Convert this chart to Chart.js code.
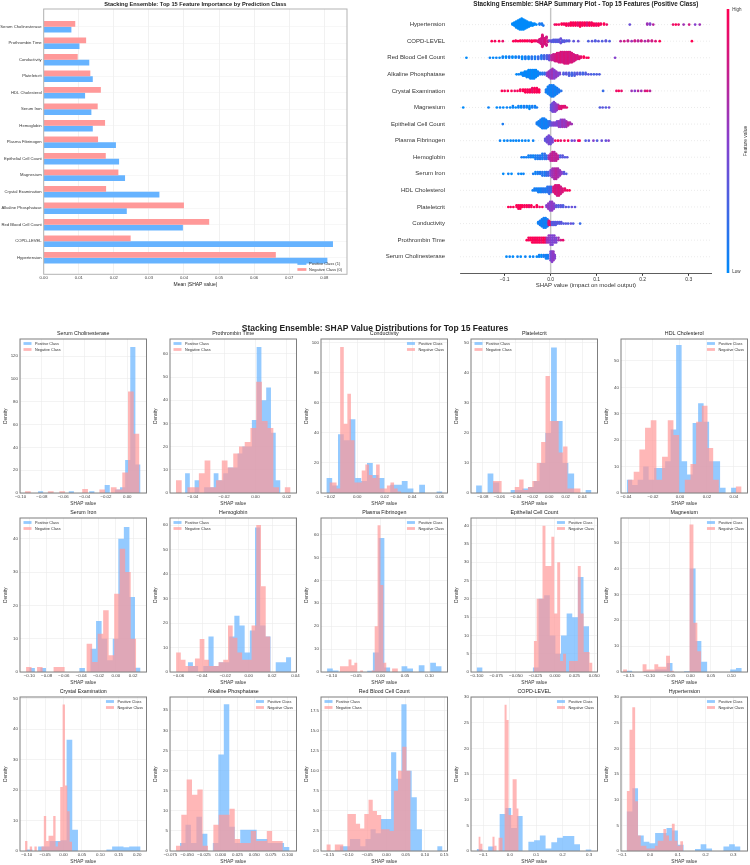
<!DOCTYPE html>
<html>
<head>
<meta charset="utf-8">
<script src="https://cdn.jsdelivr.net/npm/chart.js@4.4.1/dist/chart.umd.min.js"></script>
<style>
  body { margin: 0; background: #fff; overflow: hidden; }
  #wrap { position: relative; width: 750px; height: 865px; }
  #wrap canvas { position: absolute; }
  #suptitle { position: absolute; left: 0; width: 750px; top: 323px; text-align: center; line-height: 1;
    font: bold 8.5px "Liberation Sans", Arial, sans-serif; color: #222; z-index: 5; }
</style>
</head>
<body>
<div id="wrap"><div id="suptitle">Stacking Ensemble: SHAP Value Distributions for Top 15 Features</div></div>
<script>
// ---- data ----
const features = ['Serum Cholinesterase', 'Prothrombin Time', 'Conductivity', 'Plateletcrit', 'HDL Cholesterol',
  'Serum Iron', 'Hemoglobin', 'Plasma Fibrinogen', 'Epithelial Cell Count', 'Magnesium',
  'Crystal Examination', 'Alkaline Phosphatase', 'Red Blood Cell Count', 'COPD-LEVEL', 'Hypertension'];

// mean |SHAP| per class (top-left bars)
const meanAbsPositive = [0.0079, 0.0102, 0.0130, 0.0140, 0.0118, 0.0136, 0.0140, 0.0206, 0.0215, 0.0232, 0.0330, 0.0237, 0.0397, 0.0825, 0.0809];
const meanAbsNegative = [0.0090, 0.0121, 0.0097, 0.0133, 0.0163, 0.0154, 0.0175, 0.0155, 0.0177, 0.0213, 0.0178, 0.0400, 0.0472, 0.0248, 0.0662];

// histogram bins: [first edge, last edge] and 20 density heights per class
const histPosRange = [[-0.0836, 0.0124], [-0.0449, 0.0160], [-0.0224, 0.0619], [-0.0881, 0.0509], [-0.0395, 0.0420],
  [-0.1000, 0.0286], [-0.0522, 0.0364], [-0.1094, 0.1249], [-0.1000, 0.0436], [-0.156, 0.125],
  [-0.100, 0.2093], [-0.0608, 0.1026], [-0.1213, 0.1457], [-0.1254, 0.3093], [-0.0846, 0.3258]];
const histPosCounts = [
  [1.5,0,0,0,0,0,1.5,0,0,0,1.5,0,0,7,0,3,5,29,128,25],
  [8.5,0,5.5,0,2.5,2.5,8.5,5.5,8.5,11,11,17,20,20,31.5,63,40,45.5,26,5.5],
  [10,5,39,35,49,10,8,20,12,10,0,5.5,5.5,8,3,0,5.5,0,0,1],
  [2.5,0,6.5,3.5,0,0,1,1,1.5,2,4,10,20,48.5,24,10,6.5,0,0,1],
  [5,3,5,10,5,9.5,9.5,12,24,56,12,7,26.5,34,27,12,12,2,0,2],
  [1.2,0,1.2,0,0,0,0,0,0,1.2,0,7,15.3,10,3.5,10,40,43.5,22.5,1.3],
  [4,2.5,0,2.5,14.5,2.5,4,4,14.5,23,19,8,17,59,19,14.5,0,4,4,6],
  [1.5,0.7,0,0,0,0,0,0.5,8.5,58.5,2,0,0,2.5,1.5,0,3,0,4,2.5],
  [1.2,0,0,0,0,0,0,0,0,0,1.2,20,21,10,5,10,16,15,26,12.5],
  [0.5,0,0,0.5,0.5,1,1,3.5,0,0,0.3,40,12,4,0,0,0,0,1,1.5],
  [0.5,0,1.5,1.5,3.3,3.3,3.5,36.5,7,0,0,0,0,0,0.5,1.5,1.5,1.2,1.5,1.5],
  [2,6.5,2,8.5,4.3,0,2,24,36.5,6,2,5.3,5.3,5.3,3,3,2,2,2,1],
  [0.6,0.6,1.5,1.5,0.6,1.5,2.7,2.2,4,4,12.3,9,18.3,10,6.7,2.7,0,0,0,0.6],
  [0.4,0,0.9,0,7.2,8.4,4.5,6.8,0,1.8,2.1,3,0.5,1.7,2.6,2.9,2.9,1.3,0,0.3],
  [7.7,12.2,3,1.8,1.5,3.5,3.5,4.5,4,1.2,0,0,0.4,1.3,0.5,0,0,0.9,1.3,0.9]];
const histNegRange = [[-0.0958, 0.0114], [-0.0507, 0.0224], [-0.0202, 0.0320], [-0.0679, 0.0379], [-0.0385, 0.0457],
  [-0.1038, 0.0236], [-0.0622, 0.0186], [-0.0833, 0.0354], [-0.0272, 0.0479], [-0.164, 0.0264],
  [-0.1046, 0.0230], [-0.0668, 0.0926], [-0.156, 0.063], [-0.119, 0.0335], [-0.0846, 0.119]];
const histNegCounts = [
  [1.5,0,0,0,1.5,0,1.5,0,0,0,3.5,0,0,3,0,5,3,18,89,52],
  [5.5,0,2.5,2.5,8.5,14,2.5,5.5,14,11,17,20,22,28,48,31,28,2.5,0,2.5],
  [7,7,3,97,46,66,35,7,7,15,19,12,10,19,3,3,5,7,3,1],
  [4,4,0,0,0,2,4.5,1,2,4,10,17,39,24,24,13.5,15.5,1.5,1.5,1.5],
  [5,8,16.5,24.7,27.5,5,13.7,27.5,22,0,5,11,27,33,17,5,0,0,0,2.5],
  [1.5,0,1.5,0,0,1.5,1.5,0,0,0,0,8.5,3,11.5,18.5,5,23.5,37,30,10],
  [8,5,2.5,2.5,5.5,13.5,5,2.5,2.5,4,5,19,14,8,5,5,19,60,35,14.5],
  [2.5,2.5,2.5,5.5,3,4,0,0.7,0,0,0,0.7,20,64,38,4,0,0,1.5,1.5],
  [8.5,20,20,40,29,29,37,16,30,3,5,0,3,3,3,29,16,5.5,5.5,2.5],
  [1,0,0,0,0,3,1,1,3,2,2,6.3,0.5,0,0,0,0,57,19,8],
  [3.3,0,1.5,0,1.5,0,0,1.5,11.5,3.3,5,5,11.5,1.5,3,21,48,21.5,13,3],
  [1.3,9,17.8,14,15.3,1.3,0,6.5,9,9,10.5,3,2,2,5,2.5,2.5,5,2.5,2.5],
  [0.8,0,0.8,0.8,0,4.6,4.6,3.4,2.8,4.6,6.4,5,4.5,2.7,2.7,2.5,7.5,10,13,10],
  [2.8,1.4,0,0,0,0,0,2.8,1,0,2.6,2.6,0,28.5,25.5,7,7,14,14,8.3],
  [11.7,23.6,28,9.7,3,1,1,0.5,0.5,0.5,1,2,2,4.3,3,2,5.3,2,1,1.9]];

// histogram axes: x limits, x tick step, y top, y tick step
const histXLimits = [[-0.1005, 0.018], [-0.0545, 0.0262], [-0.0263, 0.0656], [-0.0942, 0.0582], [-0.0437, 0.0501],
  [-0.1108, 0.0355], [-0.0674, 0.0409], [-0.1218, 0.1368], [-0.1073, 0.0543], [-0.169, 0.139],
  [-0.1183, 0.2254], [-0.0757, 0.113], [-0.170, 0.1587], [-0.147, 0.332], [-0.105, 0.351]];
const histXStep = [0.02, 0.02, 0.02, 0.02, 0.02, 0.02, 0.02, 0.05, 0.025, 0.05, 0.05, 0.025, 0.05, 0.1, 0.1];
const histYMax = [135, 66.4, 102.4, 51.3, 58.3, 46.2, 62.9, 67.2, 42.1, 59.5, 50.5, 38.3, 19.2, 30, 30];
const histYStep = [20, 10, 20, 10, 10, 10, 10, 10, 5, 10, 10, 5, 2.5, 5, 5];

// beeswarm clusters: [SHAP value, samples, feature value 0..1]
const swarmHypertension = [[-0.083,2,0],[-0.079,4,0],[-0.075,7,0],[-0.071,9,0],[-0.067,11,0],[-0.063,12,0],[-0.059,11,0],
  [-0.055,9,0],[-0.051,7,0],[-0.047,5,0],[-0.043,4,0],[-0.039,3,0],[-0.035,2,0],[-0.031,1,0],[-0.024,2,0.1],[-0.019,2,0.1],
  [-0.016,1,0.1],[0.009,1,0.9],[0.013,1,1],[0.018,1,0.95],[0.024,2,1],[0.029,2,0.95],[0.034,3,1],[0.039,3,0.9],[0.044,4,1],
  [0.049,4,0.95],[0.054,4,1],[0.059,4,0.9],[0.064,5,1],[0.069,4,0.95],[0.074,4,1],[0.079,4,0.85],[0.084,4,1],[0.089,4,0.95],
  [0.094,3,1],[0.099,3,0.9],[0.104,3,1],[0.109,2,0.95],[0.116,2,1],[0.122,1,0.9],[0.172,1,0.4],[0.21,2,0.6],[0.216,2,0.5],
  [0.223,1,0.7],[0.266,1,0.9],[0.272,1,1],[0.278,1,0.9],[0.289,1,0.6],[0.301,1,0.8],[0.314,1,0.5],[0.324,1,0.6]];
const swarmCopdLevel = [[-0.128,1,1],[-0.121,1,0.95],[-0.112,1,1],[-0.104,1,0.9],[-0.081,1,1],[-0.076,2,0.95],[-0.071,1,1],
  [-0.066,2,1],[-0.061,2,0.95],[-0.056,2,1],[-0.051,2,1],[-0.046,2,0.9],[-0.041,3,1],[-0.036,2,1],[-0.032,2,0.95],
  [-0.027,3,0.85],[-0.024,6,0.85],[-0.021,9,0.8],[-0.018,11,0.85],[-0.015,11,0.8],[-0.012,9,0.85],[-0.009,6,0.8],[-0.006,3,0.8],
  [-0.002,2,0.4],[0.002,3,0.35],[0.006,4,0.3],[0.01,4,0.35],[0.014,4,0.3],[0.018,4,0.35],[0.022,4,0.4],[0.026,3,0.3],
  [0.03,3,0.35],[0.035,2,0.3],[0.04,2,0.35],[0.05,1,0.35],[0.06,1,0.4],[0.082,1,0.3],[0.09,1,0.35],[0.097,2,0.3],[0.104,1,0.35],
  [0.112,1,0.3],[0.12,2,0.35],[0.128,1,0.3],[0.152,1,0.7],[0.16,1,0.8],[0.168,2,0.75],[0.176,1,0.6],[0.183,2,0.8],[0.19,2,0.7],
  [0.197,2,0.8],[0.205,1,0.65],[0.212,2,0.75],[0.22,2,0.8],[0.228,1,0.85],[0.237,1,1],[0.307,1,1]];
const swarmRedBloodCell = [[-0.183,1,0],[-0.132,1,0.05],[-0.125,1,0],[-0.118,1,0.05],[-0.111,1,0],[-0.104,2,0.05],[-0.097,2,0],
  [-0.09,2,0.1],[-0.083,2,0],[-0.076,2,0.05],[-0.069,2,0.1],[-0.062,3,0],[-0.055,3,0.1],[-0.048,3,0.05],[-0.041,3,0.15],
  [-0.034,3,0.1],[-0.027,3,0.2],[-0.02,4,0.15],[-0.014,4,0.25],[-0.008,4,0.3],[-0.003,5,0.4],[0.002,5,0.7],[0.006,6,0.75],
  [0.01,7,0.8],[0.014,8,0.85],[0.018,9,0.8],[0.022,10,0.85],[0.026,10,0.8],[0.03,11,0.85],[0.034,11,0.8],[0.038,11,0.85],
  [0.042,10,0.8],[0.046,9,0.85],[0.05,7,0.8],[0.054,5,0.85],[0.058,4,0.8],[0.062,3,0.85],[0.066,2,0.9],[0.072,2,1],
  [0.078,1,0.95],[0.082,1,1],[0.14,1,0.5]];
const swarmAlkaline = [[-0.074,1,0],[-0.069,1,0.05],[-0.064,2,0],[-0.06,3,0.05],[-0.056,4,0],[-0.052,5,0.05],[-0.048,6,0],
  [-0.044,7,0.05],[-0.04,7,0],[-0.036,7,0.05],[-0.032,6,0],[-0.028,4,0.05],[-0.023,2,0.1],[-0.018,2,0.15],[-0.013,2,0.2],
  [-0.008,3,0.5],[-0.004,5,0.6],[0,7,0.55],[0.004,8,0.6],[0.008,7,0.5],[0.012,5,0.55],[0.016,3,0.5],[0.02,2,0.45],
  [0.028,2,0.3],[0.034,2,0.35],[0.04,3,0.3],[0.046,3,0.25],[0.052,3,0.3],[0.058,2,0.35],[0.064,2,0.3],[0.07,2,0.25],
  [0.076,2,0.3],[0.082,1,0.35],[0.088,1,0.3],[0.094,1,0.25],[0.1,1,0.3],[0.106,1,0.3]];
const swarmCrystal = [[-0.106,1,1],[-0.1,1,0.95],[-0.093,1,1],[-0.085,1,1],[-0.078,1,0.9],[-0.072,1,1],[-0.066,2,0.95],
  [-0.06,2,1],[-0.055,3,1],[-0.05,3,0.95],[-0.045,3,1],[-0.04,4,0.9],[-0.035,4,1],[-0.03,4,0.95],[-0.025,3,1],
  [-0.01,3,0.1],[-0.006,6,0.05],[-0.002,8,0.1],[0.002,9,0.05],[0.006,9,0.1],[0.01,7,0.05],[0.014,5,0.1],[0.018,3,0.1],
  [0.023,1,0.15],[0.114,1,0.2],[0.143,1,0.9],[0.148,1,1],[0.154,1,0.9],[0.176,1,0.6],[0.183,1,0.5],[0.19,1,0.7],
  [0.197,1,0.6],[0.205,1,0.8],[0.21,1,0.9],[0.216,1,0.7]];
const swarmMagnesium = [[-0.19,1,0],[-0.135,1,0.05],[-0.117,1,0],[-0.11,1,0.05],[-0.103,1,0],[-0.095,1,0.05],[-0.088,1,0],
  [-0.082,2,0.05],[-0.076,1,0],[-0.07,2,0.05],[-0.064,2,0],[-0.058,2,0.1],[-0.052,2,0.05],[-0.046,3,0],[-0.04,2,0.1],
  [-0.034,2,0.05],[-0.03,1,0.1],[0.001,5,0.35],[0.004,7,0.4],[0.007,8,0.45],[0.01,7,0.5],[0.013,5,0.55],[0.016,4,0.6],
  [0.019,3,0.8],[0.023,3,0.85],[0.027,2,0.9],[0.031,2,0.85],[0.035,1,0.9],[0.107,1,0.3],[0.113,1,0.35],[0.12,1,0.3],[0.127,1,0.4]];
const swarmEpithelial = [[-0.104,1,0.1],[-0.03,2,0.1],[-0.026,4,0.05],[-0.022,6,0.1],[-0.018,8,0.05],[-0.014,8,0.1],
  [-0.01,7,0.05],[-0.006,5,0.1],[-0.002,4,0.2],[0.002,3,0.4],[0.006,3,0.45],[0.01,3,0.5],[0.014,4,0.45],[0.018,5,0.55],
  [0.022,6,0.5],[0.026,6,0.6],[0.03,6,0.55],[0.034,5,0.6],[0.038,3,0.7],[0.042,2,0.65],[0.046,1,0.6]];
const swarmPlasmaFibrinogen = [[-0.11,1,0.05],[-0.101,1,0],[-0.094,1,0.05],[-0.087,1,0],[-0.081,1,0.05],[-0.075,1,0],
  [-0.069,1,0.05],[-0.062,1,0],[-0.055,1,0.05],[-0.048,1,0],[-0.038,1,0.05],[-0.012,2,0.35],[-0.008,4,0.4],[-0.004,6,0.45],
  [0,5,0.4],[0.004,3,0.45],[0.01,1,0.9],[0.016,1,1],[0.022,1,0.9],[0.03,1,0.95],[0.038,1,1],[0.046,1,0.4],[0.052,1,0.5],
  [0.06,1,0.9],[0.063,1,1],[0.076,1,0.3],[0.083,1,0.35],[0.093,1,0.5],[0.101,1,0.3],[0.111,1,0.4],[0.12,1,0.35],[0.126,1,0.5]];
const swarmHemoglobin = [[-0.063,1,0.1],[-0.058,1,0.05],[-0.053,1,0.1],[-0.048,2,0.05],[-0.043,2,0.1],[-0.038,2,0.05],
  [-0.033,3,0.1],[-0.028,3,0.1],[-0.023,3,0.15],[-0.018,4,0.1],[-0.013,4,0.2],[-0.009,3,0.15],[-0.004,3,0.6],[0,5,0.7],
  [0.004,6,0.75],[0.008,6,0.7],[0.012,5,0.75],[0.016,3,0.7],[0.021,2,0.3],[0.026,2,0.35],[0.031,1,0.3],[0.036,1,0.35]];
const swarmSerumIron = [[-0.103,1,0],[-0.092,1,0.05],[-0.085,1,0],[-0.07,1,0.05],[-0.064,1,0],[-0.059,1,0.05],[-0.038,1,0.1],
  [-0.033,2,0.05],[-0.028,2,0.1],[-0.023,2,0.1],[-0.018,3,0.15],[-0.013,3,0.1],[-0.009,3,0.2],[-0.005,3,0.25],[0,4,0.5],
  [0.004,6,0.6],[0.008,7,0.65],[0.012,7,0.7],[0.016,6,0.65],[0.02,4,0.6],[0.024,2,0.5],[0.029,2,0.35],[0.034,1,0.3]];
const swarmHdl = [[-0.039,1,0.05],[-0.035,2,0.1],[-0.031,2,0.05],[-0.027,3,0.1],[-0.023,3,0.05],[-0.019,3,0.1],[-0.015,3,0.15],
  [-0.011,3,0.1],[-0.007,4,0.15],[-0.003,5,0.2],[0.001,4,0.25],[0.006,4,0.8],[0.01,6,0.85],[0.014,7,0.8],[0.018,7,0.85],
  [0.022,5,0.8],[0.026,3,0.85],[0.031,2,0.9],[0.036,1,0.95],[0.041,1,1]];
const swarmPlateletcrit = [[-0.092,1,1],[-0.087,1,0.95],[-0.081,1,1],[-0.074,2,1],[-0.07,3,0.95],[-0.066,3,1],[-0.062,2,1],
  [-0.057,2,0.95],[-0.052,2,1],[-0.047,2,0.9],[-0.042,2,1],[-0.036,1,0.95],[-0.03,2,1],[-0.024,1,0.9],[-0.018,1,0.95],
  [-0.009,2,0.5],[-0.005,4,0.55],[-0.001,6,0.5],[0.003,6,0.55],[0.007,4,0.5],[0.012,2,0.35],[0.017,2,0.3],[0.022,2,0.35],
  [0.027,2,0.3],[0.033,1,0.35],[0.039,1,0.3],[0.046,1,0.4],[0.053,1,0.35]];
const swarmConductivity = [[-0.027,2,0.05],[-0.023,4,0.1],[-0.019,6,0.05],[-0.015,8,0.1],[-0.011,8,0.05],[-0.007,6,0.1],
  [-0.004,4,0.85],[-0.001,3,0.9],[0.003,3,0.3],[0.007,3,0.35],[0.011,3,0.3],[0.015,2,0.35],[0.019,2,0.3],[0.023,2,0.35],
  [0.028,1,0.3],[0.033,1,0.35],[0.038,1,0.3],[0.044,1,0.4],[0.049,1,0.3],[0.064,1,0.2]];
const swarmProthrombin = [[-0.052,1,1],[-0.048,2,0.95],[-0.044,2,1],[-0.04,3,1],[-0.036,3,0.95],[-0.032,3,1],[-0.028,3,0.95],
  [-0.024,3,1],[-0.02,3,0.9],[-0.016,3,1],[-0.012,3,0.95],[-0.008,3,0.6],[-0.004,4,0.55],[0,5,0.5],[0.004,5,0.45],
  [0.008,4,0.5],[0.012,3,0.45],[0.017,2,0.6],[0.022,1,0.8],[0.027,1,0.9]];
const swarmSerumCholinesterase = [[-0.096,1,0],[-0.089,1,0.05],[-0.082,1,0],[-0.072,1,0.05],[-0.065,1,0],[-0.055,1,0.05],
  [-0.045,1,0],[-0.038,1,0.05],[-0.03,1,0],[-0.025,2,0.05],[-0.02,2,0],[-0.015,2,0.1],[-0.01,3,0.05],[-0.006,3,0.1],
  [0,6,0.45],[0.003,7,0.5],[0.006,6,0.55],[0.009,3,0.5]];
// same order as features
const swarmRows = [swarmSerumCholinesterase, swarmProthrombin, swarmConductivity, swarmPlateletcrit, swarmHdl,
  swarmSerumIron, swarmHemoglobin, swarmPlasmaFibrinogen, swarmEpithelial, swarmMagnesium,
  swarmCrystal, swarmAlkaline, swarmRedBloodCell, swarmCopdLevel, swarmHypertension];

// ---- drawing ----
const family = '"Liberation Sans", Arial, Helvetica, sans-serif';
Chart.defaults.font.family = family;
Chart.defaults.color = '#333';
Chart.defaults.animation = false;

const BLUE = '#66b3ff', PINK = '#ff9999';
const BLUE_A = 'rgba(102,179,255,0.7)', PINK_A = 'rgba(255,153,153,0.7)';
const wrap = document.getElementById('wrap');

function makeCanvas(left, top, w, h) {
  const c = document.createElement('canvas');
  c.width = w; c.height = h;
  c.style.left = left + 'px'; c.style.top = top + 'px';
  c.style.width = w + 'px'; c.style.height = h + 'px';
  wrap.appendChild(c);
  return c;
}

function fmt(v, d) {
  if (Math.abs(v) < 1e-9) v = 0;
  return v.toFixed(d).replace('-', '\u2212');
}
function decimalsOf(step) {
  const s = String(step);
  return s.includes('.') ? s.split('.')[1].length : 0;
}

function featureColor(f) {
  const stops = [[0, [0, 138, 250]], [0.5, [134, 64, 206]], [1, [255, 0, 82]]];
  let i = f <= 0.5 ? 0 : 1;
  const [t0, c0] = stops[i], [t1, c1] = stops[i + 1];
  const t = (f - t0) / (t1 - t0);
  const c = c0.map((v, k) => Math.round(v + (c1[k] - v) * t));
  return `rgb(${c[0]},${c[1]},${c[2]})`;
}

const framePlugin = {
  id: 'frame',
  afterDatasetsDraw(chart, args, o) {
    const a = chart.chartArea, ctx = chart.ctx;
    ctx.save();
    ctx.strokeStyle = o.color;
    ctx.lineWidth = o.width;
    ctx.strokeRect(a.left, a.top, a.right - a.left, a.bottom - a.top);
    ctx.restore();
  }
};

const boxLegend = {
  id: 'boxLegend',
  afterDraw(chart, args, o) {
    const a = chart.chartArea, ctx = chart.ctx;
    ctx.save();
    ctx.font = o.size + 'px ' + family;
    ctx.textBaseline = 'middle';
    const items = o.order.map(i => chart.data.datasets[i]);
    const tw = Math.max(...items.map(d => ctx.measureText(d.label).width));
    items.forEach((d, k) => {
      const y = o.corner === 'lr'
        ? a.bottom - o.first - (items.length - 1 - k) * o.gap
        : a.top + o.first + k * o.gap;
      const tx = o.corner === 'ul' ? a.left + o.inset : a.right - o.edge - tw;
      ctx.fillStyle = d.backgroundColor;
      ctx.fillRect(tx - o.patchGap - o.patchW, y - o.patchH / 2, o.patchW, o.patchH);
      ctx.fillStyle = '#333';
      ctx.fillText(d.label, tx, y);
    });
    ctx.restore();
  }
};

// top-left: mean |SHAP| by class
(function () {
  const c = makeCanvas(0, 0, 350, 295);
  new Chart(c, {
    type: 'bar',
    data: {
      datasets: [
        { label: 'Negative Class (0)', data: features.map((f, i) => ({ x: meanAbsNegative[i], y: i })),
          backgroundColor: PINK, categoryPercentage: 0.7, barPercentage: 1 },
        { label: 'Positive Class (1)', data: features.map((f, i) => ({ x: meanAbsPositive[i], y: i })),
          backgroundColor: BLUE, categoryPercentage: 0.7, barPercentage: 1 }
      ]
    },
    options: {
      responsive: false, indexAxis: 'y',
      layout: { padding: { left: 0, right: 3, top: 0, bottom: 0 } },
      plugins: {
        legend: { display: false }, tooltip: { enabled: false },
        title: { display: true, fullSize: false, text: 'Stacking Ensemble: Top 15 Feature Importance by Prediction Class',
          color: '#222', font: { size: 5.7, weight: 'bold', lineHeight: 1.2 }, padding: { top: 1.1, bottom: 1.06 } },
        frame: { color: '#b3b3b3', width: 1 },
        boxLegend: { corner: 'lr', order: [1, 0], size: 4, first: 4.8, gap: 6, edge: 5, patchGap: 2.7, patchW: 9, patchH: 2.7 }
      },
      scales: {
        x: {
          type: 'linear', min: 0, max: 0.0865,
          afterFit: s => { s.height = 20.7; s.paddingLeft = 0; s.paddingRight = 0; },
          ticks: { stepSize: 0.01, includeBounds: false, autoSkip: false, maxRotation: 0, padding: 1.5,
            font: { size: 4.2 }, color: '#444', callback: v => fmt(v, 2) },
          grid: { color: '#e8e8e8', lineWidth: 0.6, drawTicks: false }, border: { display: false },
          title: { display: true, text: 'Mean |SHAP value|', color: '#222', font: { size: 5 }, padding: { top: 0, bottom: 7.5 } }
        },
        y: {
          type: 'linear', reverse: true, min: -1.07, max: 15.0, offset: false,
          afterFit: s => { s.width = 43.7; s.paddingTop = 0; s.paddingBottom = 0; },
          afterBuildTicks: s => { s.ticks = features.map((f, i) => ({ value: i })); },
          ticks: { autoSkip: false, padding: 2, font: { size: 4.2 }, color: '#333', callback: v => features[v] },
          grid: { color: '#efefef', lineWidth: 0.5, drawTicks: false, offset: false }, border: { display: false }
        }
      }
    },
    plugins: [framePlugin, boxLegend]
  });
})();

// top-right: beeswarm summary
function swarmPoints(clusters, row) {
  const pts = [];
  clusters.forEach(([v, n, f]) => { for (let k = 0; k < n; k++) pts.push({ x: v, f }); });
  const lo = Math.min(...pts.map(p => p.x)), hi = Math.max(...pts.map(p => p.x));
  pts.forEach(p => { p.q = Math.round(100 * (p.x - lo) / (hi - lo + 1e-8)); });
  pts.sort((a, b) => a.q - b.q);
  let layer = 0, last = null;
  pts.forEach(p => {
    if (p.q !== last) { layer = 0; last = p.q; }
    p.o = Math.ceil(layer / 2) * ((layer % 2) * 2 - 1);
    layer++;
  });
  const m = Math.max(...pts.map(p => p.o + 1));
  return pts.map(p => ({ x: p.x, y: row + p.o * 0.9 * 0.46 / m, c: featureColor(p.f) }));
}

const shapGuides = {
  id: 'shapGuides',
  beforeDatasetsDraw(chart) {
    const a = chart.chartArea, ctx = chart.ctx, xs = chart.scales.x, ys = chart.scales.y;
    ctx.save();
    ctx.strokeStyle = '#c8c8c8'; ctx.lineWidth = 0.6; ctx.setLineDash([0.6, 2.4]);
    features.forEach((f, i) => {
      const y = ys.getPixelForValue(i);
      ctx.beginPath(); ctx.moveTo(a.left, y); ctx.lineTo(a.right, y); ctx.stroke();
    });
    ctx.setLineDash([]);
    ctx.strokeStyle = '#c4c4c4'; ctx.lineWidth = 1.4;
    const x0 = xs.getPixelForValue(0);
    ctx.beginPath(); ctx.moveTo(x0, a.top); ctx.lineTo(x0, a.bottom); ctx.stroke();
    ctx.restore();
  }
};

const colorBar = {
  id: 'colorBar',
  afterDraw(chart, args, o) {
    const ctx = chart.ctx;
    ctx.save();
    const g = ctx.createLinearGradient(0, o.bottom, 0, o.top);
    [0, 0.25, 0.5, 0.75, 1].forEach(t => g.addColorStop(t, featureColor(t)));
    ctx.fillStyle = g;
    ctx.fillRect(o.x, o.top, o.w, o.bottom - o.top);
    ctx.fillStyle = '#333';
    ctx.font = '4.5px ' + family;
    ctx.textBaseline = 'middle';
    ctx.fillText('High', o.x + o.w + 3, o.top + 1);
    ctx.fillText('Low', o.x + o.w + 3, o.bottom - 1);
    ctx.translate(o.x + o.w + 16.4, (o.top + o.bottom) / 2);
    ctx.rotate(-Math.PI / 2);
    ctx.textAlign = 'center';
    ctx.font = '5px ' + family;
    ctx.fillText('Feature value', 0, 0);
    ctx.restore();
  }
};

(function () {
  const c = makeCanvas(350, 0, 400, 295);
  const datasets = swarmRows.map((rows, i) => {
    const pts = swarmPoints(rows, i);
    return {
      label: features[i],
      data: pts.map(p => ({ x: p.x, y: p.y })),
      backgroundColor: pts.map(p => p.c),
      pointRadius: 1.35, pointHoverRadius: 1.35, borderWidth: 0
    };
  });
  new Chart(c, {
    type: 'scatter',
    data: { datasets },
    options: {
      responsive: false,
      layout: { padding: { left: 0, right: 38.3, top: 0, bottom: 0 } },
      plugins: {
        legend: { display: false }, tooltip: { enabled: false },
        title: { display: true, fullSize: false, text: 'Stacking Ensemble: SHAP Summary Plot - Top 15 Features (Positive Class)',
          color: '#222', font: { size: 6.3, weight: 'bold', lineHeight: 1.2 }, padding: { top: 0.4, bottom: 0.04 } },
        colorBar: { x: 376.7, w: 2.6, top: 9, bottom: 273 }
      },
      scales: {
        x: {
          type: 'linear', min: -0.197, max: 0.35,
          afterFit: s => { s.height = 21.7; s.paddingLeft = 0; s.paddingRight = 0; },
          ticks: { stepSize: 0.1, includeBounds: false, autoSkip: false, maxRotation: 0, padding: 1,
            font: { size: 5 }, color: '#333', callback: v => fmt(v, 1) },
          grid: { drawOnChartArea: false, color: 'rgba(0,0,0,0)', tickColor: '#333', tickLength: 2.5 },
          border: { display: true, color: '#333', width: 0.8 },
          title: { display: true, text: 'SHAP value (impact on model output)', color: '#333', font: { size: 6 },
            padding: { top: 0, bottom: 6.4 } }
        },
        y: {
          type: 'linear', min: -1, max: 15,
          afterFit: s => { s.width = 110; s.paddingTop = 0; s.paddingBottom = 0; },
          afterBuildTicks: s => { s.ticks = features.map((f, i) => ({ value: i })); },
          ticks: { autoSkip: false, padding: 7, font: { size: 6 }, color: '#333', callback: v => features[v] },
          grid: { display: false }, border: { display: false }
        }
      }
    },
    plugins: [shapGuides, colorBar]
  });
})();

// bottom: 15 histograms
function histPoints(range, counts) {
  const w = (range[1] - range[0]) / counts.length;
  const pts = counts.map((c, i) => ({ x: range[0] + i * w, y: c }));
  pts.push({ x: range[1], y: counts[counts.length - 1] });
  return pts;
}

const histCols = [20, 170, 320.5, 471, 621];
const histRows = [339, 518, 697];
const legendLeft = ['Serum Cholinesterase', 'Prothrombin Time', 'Plateletcrit', 'Serum Iron', 'Hemoglobin', 'Red Blood Cell Count'];

features.forEach((name, i) => {
  const pl = histCols[i % 5], pt = histRows[Math.floor(i / 5)];
  const c = makeCanvas(pl - 20, pt - 11, 150, 179);
  const xd = decimalsOf(histXStep[i]), yd = decimalsOf(histYStep[i]);
  new Chart(c, {
    type: 'line',
    data: {
      datasets: [
        { label: 'Positive Class', data: histPoints(histPosRange[i], histPosCounts[i]), stepped: true, fill: 'origin',
          backgroundColor: BLUE_A, borderColor: 'rgba(0,0,0,0)', borderWidth: 0, pointRadius: 0, order: 1 },
        { label: 'Negative Class', data: histPoints(histNegRange[i], histNegCounts[i]), stepped: true, fill: 'origin',
          backgroundColor: PINK_A, borderColor: 'rgba(0,0,0,0)', borderWidth: 0, pointRadius: 0, order: 0 }
      ]
    },
    options: {
      responsive: false,
      layout: { padding: { left: 0, right: 3.5, top: 0, bottom: 0 } },
      plugins: {
        legend: { display: false }, tooltip: { enabled: false },
        title: { display: true, fullSize: false, text: name, color: '#222',
          font: { size: 5.3, weight: 'normal', lineHeight: 1.2 }, padding: { top: 2.5, bottom: 2.14 } },
        frame: { color: '#7f7f7f', width: 1 },
        boxLegend: { corner: legendLeft.includes(name) ? 'ul' : 'ur', order: [0, 1], size: 3.8, first: 4.5, gap: 6,
          inset: 15, edge: 3.5, patchGap: 3.5, patchW: 8, patchH: 2.8 }
      },
      scales: {
        x: {
          type: 'linear', min: histXLimits[i][0], max: histXLimits[i][1],
          afterFit: s => { s.height = 14; s.paddingLeft = 0; s.paddingRight = 0; },
          ticks: { stepSize: histXStep[i], includeBounds: false, autoSkip: false, maxRotation: 0, minRotation: 0,
            padding: 1.5, font: { size: 4.4 }, color: '#444', callback: v => fmt(v, xd) },
          grid: { color: '#ebebeb', lineWidth: 0.6, drawTicks: false }, border: { display: false },
          title: { display: true, text: 'SHAP value', color: '#333', font: { size: 4.8 }, padding: { top: 0, bottom: 0.8 } }
        },
        y: {
          type: 'linear', min: 0, max: histYMax[i],
          afterFit: s => { s.width = 20; s.paddingTop = 0; s.paddingBottom = 0; },
          ticks: { stepSize: histYStep[i], includeBounds: false, autoSkip: false, padding: 2,
            font: { size: 4.4 }, color: '#444', callback: v => fmt(v, yd) },
          grid: { color: '#ebebeb', lineWidth: 0.6, drawTicks: false }, border: { display: false },
          title: { display: true, text: 'Density', color: '#333', font: { size: 4.6 }, padding: { top: 2.7, bottom: 0 } }
        }
      }
    },
    plugins: [framePlugin, boxLegend]
  });
});
</script>
</body>
</html>
